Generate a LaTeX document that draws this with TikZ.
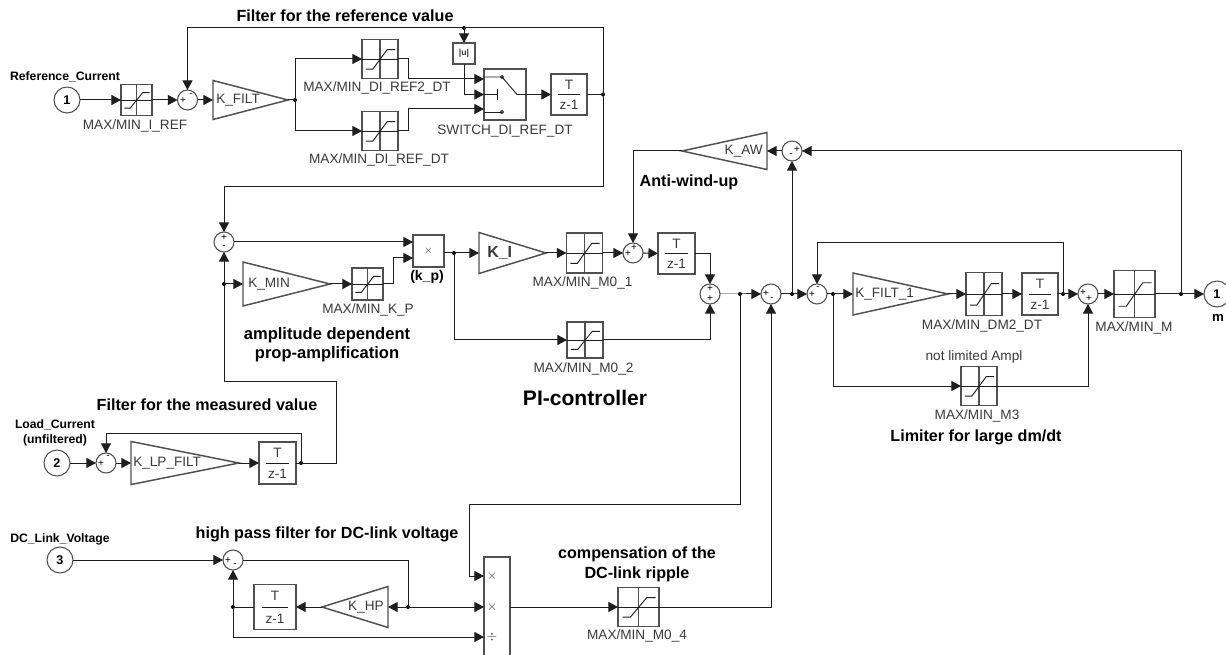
\documentclass[tikz,border=0pt]{standalone}
\usepackage{fontspec}
\setmainfont{Liberation Sans}
\usetikzlibrary{arrows.meta}
\definecolor{wirec}{HTML}{1E1E1E}
\definecolor{framec}{HTML}{505050}
\definecolor{labc}{HTML}{3A3A3A}
\tikzset{
  wire/.style={draw=wirec,line width=0.75pt},
  arr/.style={wire,-{Triangle[length=7.2pt,width=7.5pt]}},
  frame/.style={draw=framec,line width=1.1pt},
  box/.style={frame,rectangle,inner sep=0pt,outer sep=0pt,fill=none},
  ghost/.style={rectangle,inner sep=0pt,outer sep=0pt},
  sumb/.style={frame,circle,minimum size=15pt,inner sep=0pt,outer sep=0pt,line width=0.8pt},
  portb/.style={frame,circle,minimum size=19.5pt,inner sep=0pt,outer sep=0pt,font=\fontsize{9.5}{10}\selectfont\bfseries,text=black,line width=0.8pt},
  junction/.style={circle,fill=black,minimum size=3pt,inner sep=0pt,outer sep=0pt},
  sgn/.style={inner sep=0pt,font=\fontsize{7.5}{8}\selectfont,text=black},
  lab/.style={inner sep=0pt,font=\fontsize{10.2}{12}\selectfont,text=labc},
  glab/.style={inner sep=0pt,font=\fontsize{10.2}{12}\selectfont,text=labc},
  head/.style={inner sep=0pt,font=\fontsize{12.1}{15}\selectfont\bfseries,text=black,align=center},
  small/.style={inner sep=0pt,font=\fontsize{9.15}{11.25}\selectfont\bfseries,text=black,align=center},
}
% saturation block: name, cx, cy, w, h
\newcommand{\satblk}[5]{%
  \node[box,minimum width=#4*0.75pt,minimum height=#5*0.75pt] (#1) at (#2,#3) {};
  \draw[framec,line width=0.9pt] (#2,#3-#5/2) -- (#2,#3+#5/2);
  \draw[wirec,line width=0.7pt] (#2-#4/2,#3) -- (#2+#4/2,#3);
  \draw[wirec,line width=0.7pt] (#2-0.39*#4,#3+0.26*#5) -- (#2-0.2*#4,#3+0.26*#5) -- (#2+0.2*#4,#3-0.24*#5) -- (#2+0.42*#4,#3-0.24*#5);
}
% transfer block: name, cx, cy, w, h
\newcommand{\tfblk}[5]{%
  \node[box,minimum width=#4*0.75pt,minimum height=#5*0.75pt] (#1) at (#2,#3) {};
  \node[lab] (#1n) at (#2,#3-0.24*#5) {T};
  \node[lab] (#1d) at (#2,#3+0.26*#5) {z-1};
  \draw[wirec,line width=0.6pt] (#2-0.3*#4,#3) -- (#2+0.3*#4,#3);
}
% gain pointing right: name, cx, cy, w, h, text, text x
\newcommand{\gainr}[7]{%
  \node[ghost,minimum width=#4*0.75pt,minimum height=#5*0.75pt] (#1) at (#2,#3) {};
  \draw[frame] (#1.north west) -- (#1.east) -- (#1.south west) -- cycle;
  \node[glab,anchor=west] (#1t) at (#7,#3) {#6};
}
% gain pointing left
\newcommand{\gainl}[7]{%
  \node[ghost,minimum width=#4*0.75pt,minimum height=#5*0.75pt] (#1) at (#2,#3) {};
  \draw[frame] (#1.north east) -- (#1.west) -- (#1.south east) -- cycle;
  \node[glab,anchor=east] (#1t) at (#7,#3) {#6};
}
\begin{document}
\begin{tikzpicture}[x=0.75pt,y=-0.75pt]
\clip (0,0) rectangle (1226,655);
\fill[white] (0,0) rectangle (1226,655);

%%% ---- reference filter
\node[portb] (in1) at (67,100) {1};
\satblk{satI}{136.5}{100}{31}{31}
\node[sumb] (s1) at (187.5,100) {};
\node[sgn] (s1p) at (183,101) {+};
\node[sgn] (s1m) at (191,95) {-};
\gainr{kfilt}{250.5}{100}{75}{39}{K\_FILT}{216}
\node[junction] (d1) at (295,100) {};
\satblk{satRb}{380}{59}{36}{39}
\satblk{satR}{380}{131}{36}{39}
\node[box,minimum width=22*0.75pt,minimum height=21*0.75pt,font=\fontsize{6.5}{7}\selectfont\bfseries,text=labc] (abs) at (464,53.5) {|u|};
\node[box,minimum width=42*0.75pt,minimum height=51*0.75pt] (sw) at (505,94.5) {};
\coordinate (swa) at (484,79);
\coordinate (swb) at (484,94.5);
\coordinate (swc) at (484,109);
\node[junction,minimum size=3pt,fill=framec] (swt) at (502,77) {};
\node[junction,minimum size=3pt,fill=framec] (swd) at (502,112) {};
\draw[wirec,line width=0.7pt] (484,77) -- (swt.center) -- (517,94.5) -- (sw.east);
\draw[wirec,line width=0.7pt] (484,112) -- (swd.center);
\draw[wirec,line width=0.7pt] (484,94.5) -- (497,94.5) (497,89) -- (497,100);
\tfblk{tA}{569}{94.5}{36}{41}
\node[junction] (d3) at (603,94.5) {};
\node[junction] (d2) at (464,28) {};
\coordinate (ctop) at (603,28);
\coordinate (cdown) at (603,187);

\draw[arr] (in1.east) -- (satI.west);
\draw[arr] (satI.east) -- (s1.west);
\draw[arr] (s1.east) -- (kfilt.west);
\draw[wire] (kfilt.east) -- (d1.center);
\draw[arr] (d1.center) |- (satRb.west);
\draw[arr] (d1.center) |- (satR.west);
\draw[arr] (satRb.east) -- ++(10,0) |- (swa);
\draw[arr] (satR.east) -- ++(10,0) |- (swc);
\draw[arr] (d2.center) -- (abs.north);
\draw[arr] (abs.south) |- (swb);
\draw[arr] (sw.east) -- (tA.west);
\draw[wire] (tA.east) -- (d3.center);
\draw[arr] (d3.center) -- (ctop) -| (s1.north);

%%% ---- PI controller
\node[sumb] (s2) at (224,242) {};
\node[sgn] (s2p) at (224,237.5) {+};
\node[sgn] (s2m) at (224,247) {-};
\node[box,minimum width=31*0.75pt,minimum height=32*0.75pt,font=\fontsize{8}{9}\selectfont,text=labc] (prod) at (428.5,251) {$\times$};
\coordinate (pa) at (413,242);
\coordinate (pb) at (413,258);
\coordinate (po) at (444,253);
\node[junction] (d4) at (224,284) {};
\gainr{kmin}{286.5}{284}{87}{44}{K\_MIN}{248}
\satblk{satKP}{367.5}{284}{31}{32}
\node[junction] (d5) at (454,253) {};
\gainr{ki}{512.5}{253}{67}{41}{\bfseries\fontsize{12}{12}\selectfont K\_I}{487}
\satblk{satMa}{584.5}{253}{36}{40}
\node[sumb] (s3) at (633,253) {};
\node[sgn] (s3p) at (628,254) {+};
\node[sgn] (s3q) at (634,248) {+};
\tfblk{tB}{676.5}{253.5}{37}{41}
\node[sumb] (s4) at (710,294) {};
\node[sgn] (s4p) at (710,289) {+};
\node[sgn] (s4q) at (710,299) {+};
\satblk{satMb}{585}{340}{36}{36}

\draw[arr] (cdown) -| (s2.north);
\draw[wire] (d3.center) -- (cdown);
\draw[arr] (s2.east) -- (pa);
\draw[arr] (d4.center) -- (kmin.west);
\draw[arr] (kmin.east) -- (satKP.west);
\draw[arr] (satKP.east) -- ++(10,0) |- (pb);
\draw[wire] (po) -- (d5.center);
\draw[arr] (d5.center) -- (ki.west);
\draw[arr] (ki.east) -- (satMa.west);
\draw[arr] (satMa.east) -- (s3.west);
\draw[arr] (s3.east) -- (tB.west);
\draw[arr] (tB.east) -| (s4.north);
\draw[arr] (d5.center) |- (satMb.west);
\draw[arr] (satMb.east) -| (s4.south);

%%% ---- right part
\node[junction] (d6) at (740,294) {};
\node[sumb] (s5) at (771,294) {};
\node[sgn] (s5p) at (766,294) {+};
\node[sgn] (s5m) at (772,299) {-};
\node[junction] (d7) at (792,294) {};
\node[sumb] (s6) at (817,294) {};
\node[sgn] (s6p) at (812,295) {+};
\node[sgn] (s6m) at (818,288) {-};
\node[junction] (d8) at (833,294) {};
\gainr{kfb}{900.5}{294}{95}{42}{K\_FILT\_1}{855}
\satblk{satDM}{984}{294}{36}{43}
\tfblk{tC}{1040}{294}{36}{42}
\node[junction] (d9) at (1063,294) {};
\coordinate (cfb) at (1063,243);
\node[sumb] (s8) at (1088,294) {};
\node[sgn] (s8p) at (1083,293) {+};
\node[sgn] (s8q) at (1089,299) {+};
\satblk{satMM}{1134.5}{294}{41}{47}
\node[junction] (d10) at (1181,294) {};
\node[portb] (out) at (1217,294) {1};
\satblk{satMc}{979}{386}{36}{39}
\node[sumb] (s7) at (792,151) {};
\node[sgn] (s7p) at (797,150) {+};
\node[sgn] (s7m) at (791,155) {-};
\gainl{kaw}{724.5}{151}{85}{37}{K\_AW}{763}

\draw[arr] (s4.east) -- (d6.center) -- (s5.west);
\draw[wire] (s5.east) -- (d7.center);
\draw[arr] (d7.center) -- (s6.west);
\draw[arr] (d7.center) -- (s7.south);
\draw[wire] (s6.east) -- (d8.center);
\draw[arr] (d8.center) -- (kfb.west);
\draw[arr] (kfb.east) -- (satDM.west);
\draw[arr] (satDM.east) -- (tC.west);
\draw[wire] (tC.east) -- (d9.center);
\draw[arr] (d9.center) -- (s8.west);
\draw[arr] (d9.center) -- (cfb) -| (s6.north);
\draw[arr] (s8.east) -- (satMM.west);
\draw[wire] (satMM.east) -- (d10.center);
\draw[arr] (d10.center) -- (out.west);
\draw[arr] (d10.center) |- (s7.east);
\draw[arr] (s7.west) -- (kaw.east);
\draw[arr] (kaw.west) -| (s3.north);
\draw[arr] (d8.center) |- (satMc.west);
\draw[arr] (satMc.east) -| (s8.south);

%%% ---- load current filter
\node[portb] (in2) at (57,463) {2};
\node[sumb] (s10) at (106,463) {};
\node[sgn] (s10p) at (101,464) {+};
\node[sgn] (s10m) at (108,457) {-};
\gainr{klp}{185}{463}{108}{43}{K\_LP\_FILT}{133}
\tfblk{tD}{277.5}{463}{37}{42}
\node[junction] (d13) at (301,463) {};
\coordinate (cl) at (301,433);
\coordinate (cr) at (336,463);
\coordinate (cu) at (336,381);

\draw[arr] (in2.east) -- (s10.west);
\draw[arr] (s10.east) -- (klp.west);
\draw[arr] (klp.east) -- (tD.west);
\draw[wire] (tD.east) -- (d13.center);
\draw[arr] (d13.center) -- (cl) -| (s10.north);
\draw[arr] (d13.center) -- (cr) -- (cu) -| (s2.south);

%%% ---- DC link
\node[portb] (in3) at (60,560) {3};
\node[sumb] (s9) at (233,560) {};
\node[sgn] (s9p) at (228,561) {+};
\node[sgn] (s9m) at (235,565) {-};
\node[box,minimum width=26*0.75pt,minimum height=106*0.75pt] (pm) at (497,610) {};
\node[lab] (pmx) at (492,576) {$\times$};
\node[lab] (pmy) at (492,607) {$\times$};
\node[lab] (pmz) at (492,637) {$\div$};
\coordinate (pmA) at (484,576);
\coordinate (pmB) at (484,607);
\coordinate (pmC) at (484,637);
\coordinate (pmO) at (510,607);
\node[junction] (d11) at (408,607) {};
\gainl{kh}{355}{607}{66}{41}{K\_HP}{384}
\tfblk{tE}{275}{607}{42}{45}
\node[junction] (d12) at (233,607) {};
\satblk{satMd}{638.5}{607}{41}{39}
\coordinate (tap) at (740,504);
\coordinate (tapl) at (469,504);
\coordinate (tapd) at (469,576);

\draw[arr] (in3.east) -- (s9.west);
\draw[wire] (s9.east) -| (d11.center);
\draw[arr] (d11.center) -- (kh.east);
\draw[arr] (kh.west) -- (tE.east);
\draw[wire] (tE.west) -- (d12.center);
\draw[arr] (d12.center) -- (s9.south);
\draw[arr] (d12.center) |- (pmC);
\draw[arr] (d11.center) -- (pmB);
\draw[arr] (pmO) -- (satMd.west);
\draw[arr] (satMd.east) -| (s5.south);
\draw[arr] (d6.center) -- (tap) -- (tapl) -- (tapd) -- (pmA);

%%% ---- labels
\node[head] (h1) at (345,16) {Filter for the reference value};
\node[small] (h2) at (65,77) {Reference\_Current};
\node[lab] (l1) at (135,126) {MAX/MIN\_I\_REF};
\node[lab] (l2) at (377,88) {MAX/MIN\_DI\_REF2\_DT};
\node[lab] (l3) at (379,160) {MAX/MIN\_DI\_REF\_DT};
\node[lab] (l4) at (505,131) {SWITCH\_DI\_REF\_DT};
\node[small,font=\fontsize{10.5}{12}\selectfont\bfseries] (h3) at (427,277) {(k\_p)};
\node[lab] (l5) at (368,310) {MAX/MIN\_K\_P};
\node[head,font=\fontsize{12.4}{14.6}\selectfont\bfseries] (h4) at (327,344.5) {amplitude dependent\\prop-amplification};
\node[lab] (l6) at (582.5,283) {MAX/MIN\_M0\_1};
\node[lab] (l7) at (583.5,369) {MAX/MIN\_M0\_2};
\node[inner sep=0pt,font=\fontsize{15.8}{18}\selectfont\bfseries,text=black] (h5) at (585,398) {PI-controller};
\node[head] (h6) at (689,182) {Anti-wind-up};
\node[lab] (l8) at (982,326) {MAX/MIN\_DM2\_DT};
\node[lab] (l9) at (1134,328) {MAX/MIN\_M};
\node[lab] (l10) at (974,357) {not limited Ampl};
\node[lab] (l11) at (977,416) {MAX/MIN\_M3};
\node[head] (h7) at (976,437) {Limiter for large dm/dt};
\node[small,font=\fontsize{10}{11}\selectfont\bfseries] (h8) at (1218,318) {m};
\node[head] (h9) at (207,405) {Filter for the measured value};
\node[small] (h10) at (55,432.5) {Load\_Current\\(unfiltered)};
\node[small] (h11) at (60,539) {DC\_Link\_Voltage};
\node[head] (h12) at (327,534) {high pass filter for DC-link voltage};
\node[head] (h13) at (637,564) {compensation of the\\DC-link ripple};
\node[lab] (l12) at (637,636) {MAX/MIN\_M0\_4};
\end{tikzpicture}
\end{document}
